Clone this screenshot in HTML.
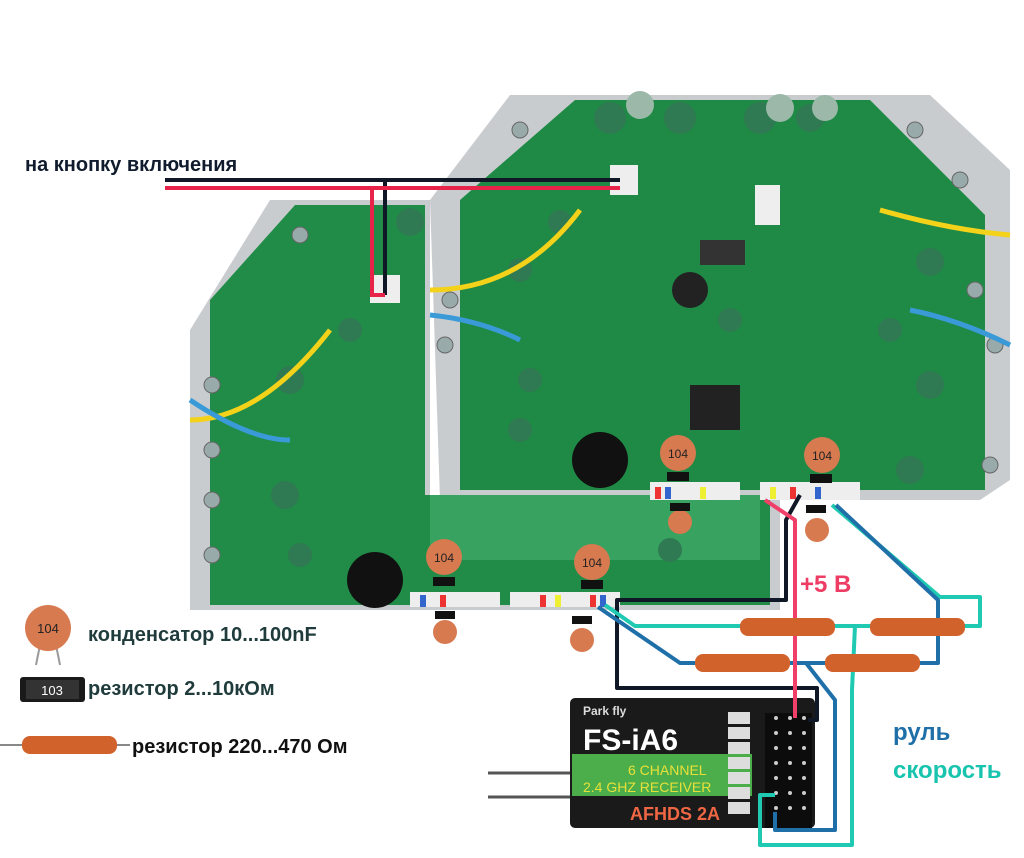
<!DOCTYPE html>
<html><head><meta charset="utf-8"><style>
body{margin:0;background:#fff;width:1024px;height:853px;overflow:hidden;font-family:"Liberation Sans",sans-serif}
</style></head><body>
<svg width="1024" height="853" viewBox="0 0 1024 853" xmlns="http://www.w3.org/2000/svg" font-family="Liberation Sans, DejaVu Sans, sans-serif">
<polygon points="510,95 930,95 1010,170 1010,480 980,500 440,500 430,200" fill="#c9cccf"/>
<polygon points="575,100 870,100 985,215 985,490 460,490 460,200" fill="#1f8a45"/>
<polygon points="270,200 430,200 430,500 780,500 780,610 190,610 190,330" fill="#c9cccf"/>
<polygon points="295,205 425,205 425,495 770,495 770,605 210,605 210,300" fill="#218c48"/>
<rect x="430" y="495" width="330" height="65" fill="#3fa866" opacity="0.8"/>
<circle cx="375" cy="580" r="28" fill="#111"/>
<circle cx="600" cy="460" r="28" fill="#111"/>
<circle cx="690" cy="290" r="18" fill="#222"/>
<rect x="690" y="385" width="50" height="45" fill="#222"/>
<rect x="700" y="240" width="45" height="25" fill="#333"/>
<g fill="#2f7a52">
<circle cx="610" cy="118" r="16"/><circle cx="680" cy="118" r="16"/><circle cx="760" cy="118" r="16"/><circle cx="810" cy="118" r="14"/>
<circle cx="560" cy="222" r="12"/><circle cx="410" cy="222" r="14"/><circle cx="930" cy="262" r="14"/><circle cx="930" cy="385" r="14"/>
<circle cx="520" cy="270" r="12"/><circle cx="730" cy="320" r="12"/><circle cx="290" cy="380" r="14"/><circle cx="285" cy="495" r="14"/>
<circle cx="530" cy="380" r="12"/><circle cx="520" cy="430" r="12"/><circle cx="890" cy="330" r="12"/><circle cx="910" cy="470" r="14"/>
<circle cx="300" cy="555" r="12"/><circle cx="670" cy="550" r="12"/><circle cx="350" cy="330" r="12"/>
</g>
<g fill="#9bb8a8"><circle cx="640" cy="105" r="14"/><circle cx="780" cy="108" r="14"/><circle cx="825" cy="108" r="13"/></g>
<g fill="#9aa" stroke="#666"><circle cx="520" cy="130" r="8"/><circle cx="915" cy="130" r="8"/><circle cx="960" cy="180" r="8"/><circle cx="975" cy="290" r="8"/><circle cx="995" cy="345" r="8"/><circle cx="990" cy="465" r="8"/><circle cx="450" cy="300" r="8"/><circle cx="445" cy="345" r="8"/><circle cx="212" cy="385" r="8"/><circle cx="212" cy="450" r="8"/><circle cx="212" cy="500" r="8"/><circle cx="212" cy="555" r="8"/><circle cx="300" cy="235" r="8"/></g>
<rect x="610" y="165" width="28" height="30" fill="#eee"/><rect x="370" y="275" width="30" height="28" fill="#eee"/><rect x="755" y="185" width="25" height="40" fill="#eee"/>
<rect x="650" y="482" width="90" height="18" fill="#eee"/><rect x="760" y="482" width="100" height="18" fill="#eee"/>
<rect x="410" y="592" width="90" height="15" fill="#eee"/><rect x="510" y="592" width="110" height="15" fill="#eee"/>
<g><rect x="655" y="487" width="6" height="12" fill="#e33"/><rect x="665" y="487" width="6" height="12" fill="#36c"/><rect x="700" y="487" width="6" height="12" fill="#ee3"/><rect x="790" y="487" width="6" height="12" fill="#e33"/><rect x="815" y="487" width="6" height="12" fill="#36c"/><rect x="770" y="487" width="6" height="12" fill="#ee3"/>
<rect x="420" y="595" width="6" height="12" fill="#36c"/><rect x="440" y="595" width="6" height="12" fill="#e33"/><rect x="540" y="595" width="6" height="12" fill="#e33"/><rect x="555" y="595" width="6" height="12" fill="#ee3"/><rect x="590" y="595" width="6" height="12" fill="#e33"/><rect x="600" y="595" width="6" height="12" fill="#36c"/></g>
<path d="M430,290 Q520,290 580,210" stroke="#f4d21a" stroke-width="5" fill="none"/>
<path d="M190,420 Q260,420 330,330" stroke="#f4d21a" stroke-width="5" fill="none"/>
<path d="M190,400 Q250,440 290,440" stroke="#3a9ad8" stroke-width="5" fill="none"/>
<path d="M430,315 Q480,320 520,340" stroke="#3a9ad8" stroke-width="5" fill="none"/>
<path d="M880,210 Q950,230 1010,235" stroke="#f4d21a" stroke-width="5" fill="none"/>
<path d="M910,310 Q960,320 1010,345" stroke="#3a9ad8" stroke-width="5" fill="none"/>
<path d="M165,180 L620,180 M385,180 L385,295" stroke="#101828" stroke-width="4" fill="none"/>
<path d="M165,188 L620,188 M372,188 L372,295 L385,295" stroke="#e8234a" stroke-width="4" fill="none"/>
<text x="25" y="171" font-size="20" font-weight="bold" fill="#101c2e">на кнопку включения</text>
<g font-size="12" text-anchor="middle" fill="#222">
<circle cx="678" cy="453" r="18" fill="#d77a50"/><text x="678" y="458">104</text>
<circle cx="822" cy="455" r="18" fill="#d77a50"/><text x="822" y="460">104</text>
<circle cx="444" cy="557" r="18" fill="#d77a50"/><text x="444" y="562">104</text>
<circle cx="592" cy="562" r="18" fill="#d77a50"/><text x="592" y="567">104</text>
<circle cx="680" cy="522" r="12" fill="#d77a50"/><circle cx="817" cy="530" r="12" fill="#d77a50"/><circle cx="445" cy="632" r="12" fill="#d77a50"/><circle cx="582" cy="640" r="12" fill="#d77a50"/>
<rect x="667" y="472" width="22" height="9" fill="#111"/><rect x="810" y="474" width="22" height="9" fill="#111"/><rect x="433" y="577" width="22" height="9" fill="#111"/><rect x="581" y="580" width="22" height="9" fill="#111"/>
<rect x="670" y="503" width="20" height="8" fill="#111"/><rect x="806" y="505" width="20" height="8" fill="#111"/><rect x="435" y="611" width="20" height="8" fill="#111"/><rect x="572" y="616" width="20" height="8" fill="#111"/>
</g>
<line x1="488" y1="773" x2="570" y2="773" stroke="#555" stroke-width="3"/><line x1="488" y1="797" x2="570" y2="797" stroke="#555" stroke-width="3"/>
<rect x="570" y="698" width="245" height="130" rx="5" fill="#1a1a1a"/>
<rect x="572" y="754" width="180" height="42" fill="#4cae4a"/>
<text x="583" y="715" font-size="12" font-weight="bold" fill="#ddd">Park fly</text>
<text x="583" y="750" font-size="30" font-weight="bold" fill="#fff">FS-iA6</text>
<text x="628" y="775" font-size="14" fill="#e8e03a">6 CHANNEL</text>
<text x="583" y="792" font-size="14" fill="#e8e03a">2.4 GHZ RECEIVER</text>
<text x="630" y="820" font-size="18" font-weight="bold" fill="#e64">AFHDS 2A</text>
<g fill="#ddd"><rect x="728" y="712" width="22" height="12"/><rect x="728" y="727" width="22" height="12"/><rect x="728" y="742" width="22" height="12"/><rect x="728" y="757" width="22" height="12"/><rect x="728" y="772" width="22" height="12"/><rect x="728" y="787" width="22" height="12"/><rect x="728" y="802" width="22" height="12"/></g>
<rect x="765" y="713" width="47" height="115" fill="#0c0c0c"/>
<g fill="#ccc">
<circle cx="776" cy="718" r="2"/><circle cx="790" cy="718" r="2"/><circle cx="804" cy="718" r="2"/>
<circle cx="776" cy="733" r="2"/><circle cx="790" cy="733" r="2"/><circle cx="804" cy="733" r="2"/>
<circle cx="776" cy="748" r="2"/><circle cx="790" cy="748" r="2"/><circle cx="804" cy="748" r="2"/>
<circle cx="776" cy="763" r="2"/><circle cx="790" cy="763" r="2"/><circle cx="804" cy="763" r="2"/>
<circle cx="776" cy="778" r="2"/><circle cx="790" cy="778" r="2"/><circle cx="804" cy="778" r="2"/>
<circle cx="776" cy="793" r="2"/><circle cx="790" cy="793" r="2"/><circle cx="804" cy="793" r="2"/>
<circle cx="776" cy="808" r="2"/><circle cx="790" cy="808" r="2"/><circle cx="804" cy="808" r="2"/>
</g>
<g fill="none" stroke-width="4" stroke-linejoin="round">
<path d="M800,495 L786,520 L786,600 L617,600 L617,688 L817,688 L817,720 L808,720" stroke="#101828"/>
<path d="M605,605 L635,626 L980,626 L980,597 L940,597 L832,505" stroke="#1fc9b2"/>
<path d="M855,626 L852,690 L852,845 L760,845 L760,795 L775,795" stroke="#1fc9b2"/>
<path d="M598,607 L680,663 L938,663 L938,600 L836,505" stroke="#1f6fa8"/>
<path d="M806,663 L835,700 L835,830 L775,830 L775,812" stroke="#1f6fa8"/>
<path d="M765,500 L795,520 L795,718" stroke="#f0406a"/>
</g>
<g fill="#d2622c">
<rect x="740" y="618" width="95" height="18" rx="8"/><rect x="870" y="618" width="95" height="18" rx="8"/>
<rect x="695" y="654" width="95" height="18" rx="8"/><rect x="825" y="654" width="95" height="18" rx="8"/>
</g>
<text x="800" y="592" font-size="24" font-weight="bold" fill="#ee3d64">+5 В</text>
<text x="893" y="740" font-size="24" font-weight="bold" fill="#1f6fa8">руль</text>
<text x="893" y="778" font-size="24" font-weight="bold" fill="#19c4ae">скорость</text>
<line x1="40" y1="645" x2="36" y2="665" stroke="#999" stroke-width="2"/><line x1="56" y1="645" x2="60" y2="665" stroke="#999" stroke-width="2"/>
<circle cx="48" cy="628" r="23" fill="#d77a50"/><text x="48" y="633" font-size="13" text-anchor="middle" fill="#222">104</text>
<text x="88" y="641" font-size="20" font-weight="bold" fill="#1f3b3b">конденсатор 10...100nF</text>
<rect x="20" y="677" width="65" height="25" rx="3" fill="#1a1a1a"/><rect x="26" y="680" width="53" height="19" fill="#333"/><text x="52" y="695" font-size="13" text-anchor="middle" fill="#fff">103</text>
<text x="88" y="695" font-size="20" font-weight="bold" fill="#1f3b3b">резистор 2...10кОм</text>
<line x1="0" y1="745" x2="130" y2="745" stroke="#888" stroke-width="2"/><rect x="22" y="736" width="95" height="18" rx="8" fill="#d2622c"/>
<text x="132" y="753" font-size="20" font-weight="bold" fill="#111">резистор 220...470 Ом</text>
</svg>
</body></html>
